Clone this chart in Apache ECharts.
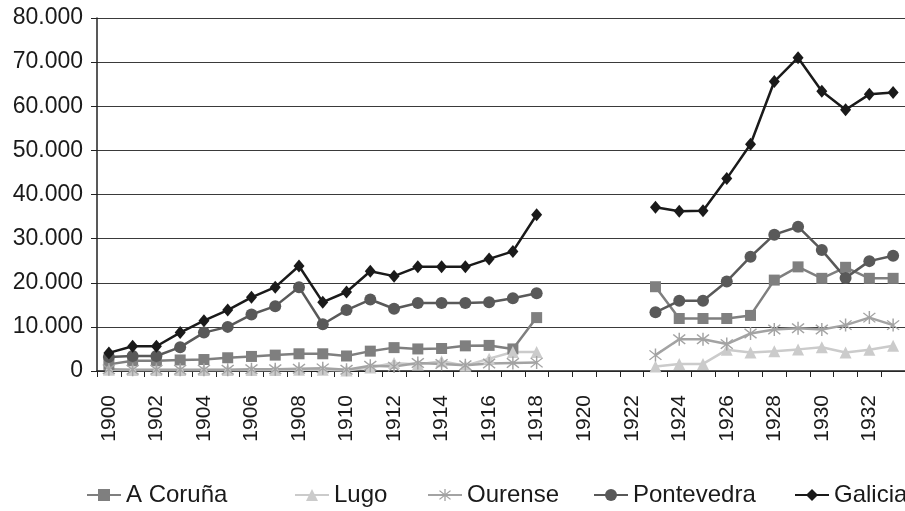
<!DOCTYPE html>
<html>
<head>
<meta charset="utf-8">
<style>
  html, body { margin: 0; padding: 0; background: #fff; }
  #chart { width: 905px; height: 511px; }
</style>
<script src="https://cdn.jsdelivr.net/npm/echarts@6/dist/echarts.min.js"></script>
</head>
<body>
<div id="chart"></div>
<script>
// years on the category axis
var years = []
for (var y = 1900; y <= 1933; y++) years.push(String(y))

var seriesNames = ['A Coruña', 'Lugo', 'Ourense', 'Pontevedra', 'Galicia']

// values (1919-1922 missing)
var coruna = [1500, 2300, 2300, 2500, 2600, 3000, 3300, 3600, 3900, 3900, 3400, 4500, 5300, 5000, 5100, 5700, 5800, 5000, 12100,
  null, null, null, null, 19100, 11900, 11900, 11900, 12600, 20600, 23600, 21000, 23500, 21000, 21000]
var lugo = [300, 200, 200, 200, 200, 200, 200, 200, 300, 300, 100, 800, 1800, 1500, 2200, 1200, 2800, 4300, 4300,
  null, null, null, null, 1000, 1600, 1600, 4800, 4200, 4500, 4900, 5400, 4200, 4800, 5700]
var ourense = [400, 300, 300, 300, 300, 300, 400, 400, 500, 600, 300, 1200, 1000, 1800, 1600, 1300, 1700, 1800, 1900,
  null, null, null, null, 3600, 7200, 7200, 6100, 8500, 9400, 9700, 9400, 10400, 12100, 10400]
var pontevedra = [3200, 3400, 3400, 5400, 8700, 10000, 12800, 14700, 19000, 10600, 13800, 16200, 14100, 15400, 15400, 15400, 15600, 16500, 17600,
  null, null, null, null, 13300, 15900, 15900, 20300, 25900, 30900, 32700, 27400, 21100, 24900, 26100]
var galicia = [4100, 5600, 5600, 8700, 11400, 13800, 16700, 19000, 23800, 15600, 17900, 22600, 21500, 23600, 23600, 23600, 25400, 27100, 35400,
  null, null, null, null, 37100, 36200, 36300, 43600, 51400, 65600, 71000, 63400, 59200, 62700, 63100]

var FONT = 'Liberation Sans, Arial, sans-serif'
var TEXT = '#1a1a1a'

// asterisk marker for Ourense
var asterisk = 'path://M9 0L11 0L11 20L9 20Z M1 3.4L2.4 2L19 16.6L17.6 18Z M17.6 2L19 3.4L2.4 18L1 16.6Z'

function fmt(v) {
  return String(v).replace(/\B(?=(\d{3})+(?!\d))/g, '.')
}

function lineSeries(name, data, color, symbol, size) {
  return {
    name: name,
    type: 'line',
    data: data,
    connectNulls: false,
    symbol: symbol,
    symbolSize: size,
    lineStyle: { color: color, width: 2.5 },
    itemStyle: { color: color },
    emphasis: { disabled: true },
    animation: false
  }
}

function legendAt(name, left) {
  return {
    data: [name],
    left: left,
    top: 483,
    itemWidth: 34,
    itemHeight: 15,
    itemGap: 0,
    padding: 0,
    textStyle: { fontFamily: FONT, fontSize: 24, color: TEXT }
  }
}

var chart = echarts.init(document.getElementById('chart'))
chart.setOption({
  backgroundColor: '#fff',
  animation: false,
  grid: { left: 97, right: -2, top: 18, bottom: 140, containLabel: false },
  legend: [
    legendAt('A Coruña', 86),
    legendAt('Lugo', 294),
    legendAt('Ourense', 427),
    legendAt('Pontevedra', 593),
    legendAt('Galicia', 794)
  ],
  xAxis: {
    type: 'category',
    data: years,
    boundaryGap: true,
    axisLine: { lineStyle: { color: '#222', width: 1.5 } },
    axisTick: { show: true, interval: 0, length: 6, lineStyle: { color: '#222' } },
    axisLabel: {
      interval: 1,
      rotate: 90,
      margin: 24,
      fontFamily: FONT,
      fontSize: 21,
      color: TEXT
    },
    splitLine: { show: false }
  },
  yAxis: {
    type: 'value',
    min: 0,
    max: 80000,
    interval: 10000,
    axisLine: { show: true, lineStyle: { color: '#222', width: 1.5 } },
    axisTick: { show: true, length: 6, lineStyle: { color: '#222' } },
    axisLabel: {
      margin: 14,
      fontFamily: FONT,
      fontSize: 23,
      color: TEXT,
      formatter: fmt
    },
    splitLine: { lineStyle: { color: '#3a3a3a', width: 1 } }
  },
  series: [
    lineSeries(seriesNames[0], coruna, '#7f7f7f', 'rect', 11),
    lineSeries(seriesNames[1], lugo, '#cbcbcb', 'triangle', 12),
    lineSeries(seriesNames[2], ourense, '#a3a3a3', asterisk, 13),
    lineSeries(seriesNames[3], pontevedra, '#595959', 'circle', 12),
    lineSeries(seriesNames[4], galicia, '#1a1a1a', 'diamond', [11, 13])
  ]
})
</script>
</body>
</html>
